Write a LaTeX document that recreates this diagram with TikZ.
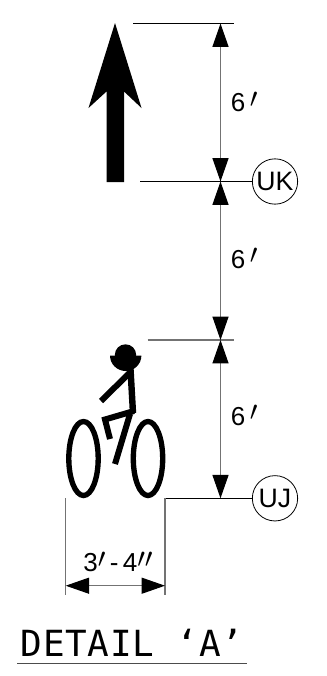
\documentclass[tikz,border=0pt]{standalone}
\usepackage{fontspec}
\setmainfont{Liberation Sans}
\newfontfamily\titlefont[LetterSpace=2]{DejaVu Sans Mono}
\usetikzlibrary{positioning,arrows.meta}
\newcommand{\ftmark}{\raisebox{.17em}{$\prime$}}
\begin{document}
\begin{tikzpicture}[x=0.75pt,y=-0.75pt]
  \tikzstyle{every node}=[font=\fontsize{19.5}{22}\selectfont, inner sep=0pt]
  \tikzset{
    thinline/.style={line width=0.6pt, black},
    dimline/.style={line width=0.8pt, black!55, {Triangle[length=17.5pt,width=12pt,color=black]}-{Triangle[length=17.5pt,width=12pt,color=black]}},
    extline/.style={line width=0.8pt, black!55},
    tag/.style={circle, draw, line width=0.6pt, fill=white, minimum size=34pt, font=\fontsize{20}{22}\selectfont},
    bikeline/.style={line width=4.5pt, black, miter limit=10}
  }
  \useasboundingbox (0,0) rectangle (327,676);
  % direction arrow
  \fill (115,23) -- (141.5,108) -- (124,91.5) -- (124,182) -- (106.5,182) -- (106.5,91.5) -- (88.5,108) -- cycle;
  % witness points
  \coordinate (topleft) at (133,23.5);
  \coordinate (topright) at (234,23.5);
  \coordinate (top) at (220.5,23.5);
  \coordinate (ukleft) at (140,181.5);
  \coordinate (uk1) at (220.5,181.5);
  \coordinate (headleft) at (147.5,340);
  \coordinate (headright) at (234,340);
  \coordinate (head) at (220.5,340);
  \coordinate (ujleft) at (165,498.3);
  \coordinate (uj1) at (220.5,498.3);
  \coordinate (wl) at (65.7,498.3);
  \coordinate (wlb) at (65.7,595);
  \coordinate (wrb) at (165,595);
  \coordinate (dl) at (65.7,585.7);
  \coordinate (dr) at (165,585.7);
  % tags
  \node[tag] (uk) at (275,181.5) {UK};
  \node[tag] (uj) at (275,498.3) {UJ};
  \draw[thinline] (topleft) -- (topright);
  \draw[thinline] (ukleft) -- (uk);
  \draw[extline] (headleft) -- (headright);
  \draw[thinline] (uj) -- (ujleft);
  \draw[extline] (ujleft) -- (wrb);
  \draw[extline] (wl) -- (wlb);
  % dimensions
  \draw[dimline] (top) -- (uk1);
  \draw[dimline] (uk1) -- (head);
  \draw[dimline] (head) -- (uj1);
  \draw[dimline] (dl) -- (dr);
  \node[anchor=base west] (upper) at (230.7,111.7) {6\,\ftmark};
  \node[anchor=base west] (mid) at (230.7,268) {6\,\ftmark};
  \node[anchor=base west] (lower) at (230.7,425) {6\,\ftmark};
  \node[anchor=base] (width) at (118,571.7) {3\ftmark\,-\,4\ftmark\ftmark};
  % bicycle
  \fill (125.5,355) circle (10.7);
  \fill (110,355.5) arc (180:0:15.7 and 15.5) -- cycle;
  \draw[bikeline] (101,401) -- (130.5,372);
  \draw[line width=4.8pt] (130.5,369) -- (133,413);
  \draw[bikeline] (134,411) -- (105,419.5) -- (110,439);
  \draw[bikeline] (130,414) -- (115,464);
  \draw[line width=4pt] (83.5,458.5) ellipse (14.7 and 37);
  \draw[line width=4pt] (148,458.5) ellipse (14.7 and 37);
  % title
  \node[font=\titlefont\fontsize{27}{30}\selectfont, anchor=base] (title) at (132,656.7) {DETAIL ‘A’};
  \coordinate (ul) at (17.3,663.7);
  \coordinate (ur) at (247,663.7);
  \draw[line width=1pt, black!70] (ul) -- (ur);
\end{tikzpicture}
\end{document}
